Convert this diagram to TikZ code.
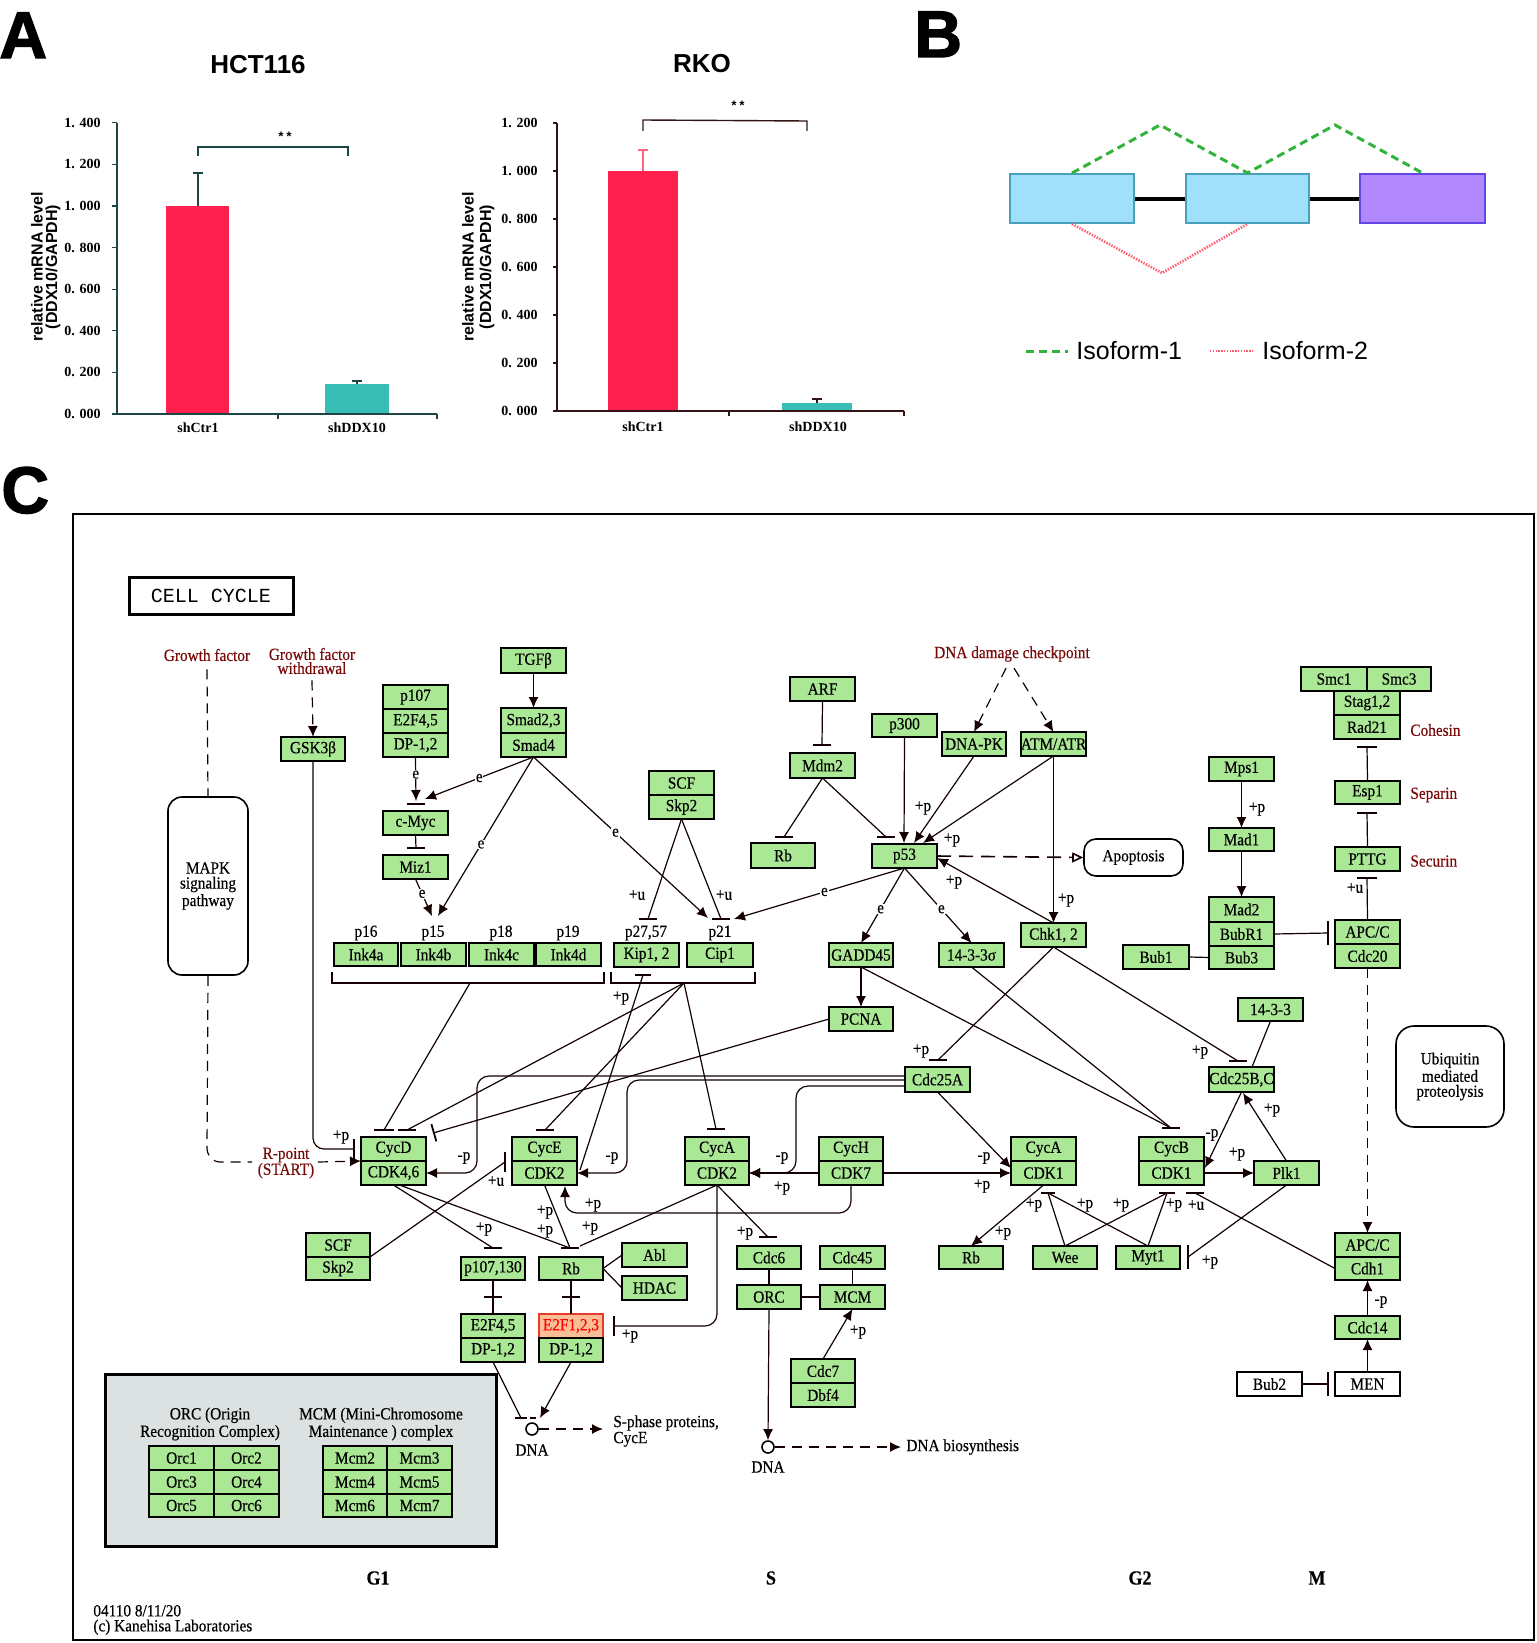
\documentclass[tikz,border=0pt]{standalone}
\usepackage{fontspec}
\setmainfont{Liberation Serif}
\newfontfamily\kgf{Liberation Serif}[FakeStretch=0.9,FakeBold=0.4]
\newfontfamily\arf{Liberation Sans}
\newfontfamily\heavy{Liberation Sans}[FakeBold=2]
\newfontfamily\mof{Liberation Mono}
\usetikzlibrary{arrows.meta}
\definecolor{kgreen}{RGB}{170,232,150}
\definecolor{kline}{RGB}{20,0,0}
\definecolor{ktext}{RGB}{120,10,10}
\definecolor{barred}{RGB}{255,32,80}
\definecolor{barteal}{RGB}{56,190,180}
\definecolor{axL}{RGB}{30,70,70}
\definecolor{axR}{RGB}{50,20,20}
\definecolor{exblue}{RGB}{160,224,250}
\definecolor{exblueD}{RGB}{70,160,190}
\definecolor{expur}{RGB}{178,136,255}
\definecolor{expurD}{RGB}{100,70,230}
\definecolor{isogreen}{RGB}{50,180,60}
\definecolor{isored}{RGB}{255,90,110}
\definecolor{graybox}{RGB}{220,225,225}
\definecolor{hlfill}{RGB}{250,190,150}
\tikzset{
  kb/.style={draw=black, line width=1pt, fill=kgreen, inner sep=0pt, outer sep=0pt, font=\kgf\fontsize{8.5}{9}\selectfont},
  lab/.style={inner sep=0pt, font=\kgf\fontsize{8.5}{9}\selectfont},
  elab/.style={lab, fill=white, inner sep=0.4pt},
  cn/.style={draw=kline, line width=0.6pt},
  ar/.style={cn, -{Latex[length=5.5pt,width=5pt]}},
  dsh/.style={dash pattern=on 5pt off 3.5pt},
  kbar/.style={draw=kline, line width=0.9pt},
  tick/.style={inner sep=0pt, font=\bfseries\fontsize{7}{7}\selectfont},
  ylab/.style={rotate=90, inner sep=0pt, font=\arf\bfseries\fontsize{8}{8}\selectfont},
  plet/.style={anchor=base west, inner sep=0pt, font=\heavy\bfseries\fontsize{33}{33}\selectfont},
  exon/.style={draw=exblueD, fill=exblue, line width=1pt, minimum height=24.5pt, inner sep=0pt},
  rbox/.style={draw=black, line width=0.8pt, inner sep=0pt, align=center, font=\kgf\fontsize{8.5}{7.5}\selectfont},
}
\newcommand\kr[6]{\node[kb, minimum width={(#4-#2)*0.5pt}, minimum height={(#5-#3)*0.5pt}] (#1) at ({(#2+#4)/2},{(#3+#5)/2}) {#6};}
\newcommand\hb[2][9]{\draw[kbar] (#2) +(-#1,0) -- +(#1,0);}
\newcommand\vb[2][10]{\draw[kbar] (#2) +(0,-#1) -- +(0,#1);}
\newcounter{lbc}
\newcommand\lb[3]{\stepcounter{lbc}\node[lab] (lb\arabic{lbc}) at (#1,#2) {#3};}
\begin{document}
\begin{tikzpicture}[x=0.5pt,y=-0.5pt]
\useasboundingbox (0,0) rectangle (1536,1643);
\fill[white] (0,0) rectangle (1536,1643);
% ---------------- panel letters
\node[plet] (lA) at (-1,58) {A};
\node[plet] (lB) at (914,57) {B};
\node[plet] (lC) at (1,513) {C};
% ---------------- panel A left
\node[inner sep=0pt, font=\arf\bfseries\fontsize{13}{13}\selectfont] (t1) at (258,65) {HCT116};
\fill[barred] (166,206) rectangle (229,414);
\fill[barteal] (325,384) rectangle (389,414);
\draw[axL, line width=0.7pt] (117,123) -- (117,414) -- (437,414);
\foreach \i/\t in {0/0. 000,1/0. 200,2/0. 400,3/0. 600,4/0. 800,5/1. 000,6/1. 200,7/1. 400}{
  \draw[axL, line width=0.6pt] (112,{414-\i*41.6}) -- (117,{414-\i*41.6});
  \node[tick, anchor=east] (tl\i) at (101,{414-\i*41.6}) {\t};
}
\draw[axL, line width=0.6pt] (278,414) -- (278,419) (437,414) -- (437,419);
\draw[axL, line width=0.6pt] (198,206) -- (198,173) (193,173) -- (203,173);
\draw[axL, line width=0.6pt] (357,384) -- (357,381) (352,381) -- (362,381);
\draw[axL, line width=0.7pt] (198,156) -- (198,147) -- (348,147) -- (348,156);
\node[inner sep=0pt, font=\mof\bfseries\fontsize{6.5}{6}\selectfont] (st1) at (285,137) {**};
\node[tick] (xl1) at (198,428) {shCtr1};
\node[tick] (xl2) at (357,428) {shDDX10};
\node[ylab] (yl1) at (37,267) {relative mRNA level};
\node[ylab] (yl2) at (53,267) {(DDX10/GAPDH)};
% ---------------- panel A right
\node[inner sep=0pt, font=\arf\bfseries\fontsize{13}{13}\selectfont] (t2) at (702,64) {RKO};
\fill[barred] (608,171) rectangle (678,411);
\fill[barteal] (782,403) rectangle (852,411);
\draw[axR, line width=0.7pt] (557,123) -- (557,411) -- (904,411);
\foreach \i/\t in {0/0. 000,1/0. 200,2/0. 400,3/0. 600,4/0. 800,5/1. 000,6/1. 200}{
  \draw[axR, line width=0.6pt] (553,{411-\i*48}) -- (557,{411-\i*48});
  \node[tick, anchor=east] (tr\i) at (538,{411-\i*48}) {\t};
}
\draw[axR, line width=0.6pt] (729,411) -- (729,416) (904,411) -- (904,416);
\draw[barred!70!white, line width=0.6pt] (643,171) -- (643,150) (638,150) -- (648,150);
\draw[axR, line width=0.6pt] (817,403) -- (817,399) (812,399) -- (822,399);
\draw[axR, line width=0.7pt] (643,131) -- (643,120) -- (807,121) -- (807,131);
\node[inner sep=0pt, font=\mof\bfseries\fontsize{6.5}{6}\selectfont] (st2) at (738,106) {**};
\node[tick] (xr1) at (643,427) {shCtr1};
\node[tick] (xr2) at (818,427) {shDDX10};
\node[ylab] (yr1) at (468,267) {relative mRNA level};
\node[ylab] (yr2) at (487,267) {(DDX10/GAPDH)};
% ---------------- panel B
\draw[black, line width=1.6pt] (1134,199) -- (1186,199) (1309,199) -- (1360,199);
\node[exon, minimum width=62pt] (ex1) at (1072,198.5) {};
\node[exon, minimum width=61.5pt] (ex2) at (1247.5,198.5) {};
\node[exon, draw=expurD, fill=expur, minimum width=62.5pt] (ex3) at (1422.5,198.5) {};
\draw[isogreen, line width=1.5pt, dash pattern=on 4pt off 2.5pt] (ex1.north) -- (1160,125) -- (ex2.north) -- (1335,125) -- (ex3.north);
\draw[isored, line width=1.3pt, dash pattern=on 0.7pt off 0.7pt] (ex1.south) -- (1162,273) -- (ex2.south);
\coordinate (lg1a) at (1026,351); \coordinate (lg1b) at (1068,351);
\coordinate (lg2a) at (1210,351); \coordinate (lg2b) at (1253,351);
\draw[isogreen, line width=1.5pt, dash pattern=on 4pt off 2.5pt] (lg1a) -- (lg1b);
\draw[isored, line width=1.3pt, dash pattern=on 0.7pt off 0.7pt] (lg2a) -- (lg2b);
\node[anchor=west, inner sep=0pt, font=\arf\fontsize{12.5}{12.5}\selectfont] (iso1) at (1076,351) {Isoform-1};
\node[anchor=west, inner sep=0pt, font=\arf\fontsize{12.5}{12.5}\selectfont] (iso2) at (1262,351) {Isoform-2};
% ---------------- panel C frame
\draw[black, line width=1pt] (73,514) rectangle (1534,1640);
\node[draw, line width=1.5pt, minimum width=82pt, minimum height=18.5pt, inner sep=0pt, font=\mof\fontsize{10}{10}\selectfont] (cc) at (211,595.5) {CELL CYCLE};
% gray legend box
\node[draw, line width=1.5pt, fill=graybox, minimum width=195.5pt, minimum height=86pt, inner sep=0pt] (gbox) at (300.5,1460) {};
\node[lab, align=center, font=\kgf\fontsize{8.5}{7.5}\selectfont] (orct) at (210,1424) {ORC (Origin\\Recognition Complex)};
\node[lab, align=center, font=\kgf\fontsize{8.5}{7.5}\selectfont] (mcmt) at (381,1424) {MCM (Mini-Chromosome\\Maintenance ) complex};
\kr{orc1}{149}{1446}{214}{1470}{Orc1}
\kr{orc2}{214}{1446}{279}{1470}{Orc2}
\kr{orc3}{149}{1470}{214}{1494}{Orc3}
\kr{orc4}{214}{1470}{279}{1494}{Orc4}
\kr{orc5}{149}{1494}{214}{1517}{Orc5}
\kr{orc6}{214}{1494}{279}{1517}{Orc6}
\kr{mcm2}{323}{1446}{387}{1470}{Mcm2}
\kr{mcm3}{387}{1446}{452}{1470}{Mcm3}
\kr{mcm4}{323}{1470}{387}{1494}{Mcm4}
\kr{mcm5}{387}{1470}{452}{1494}{Mcm5}
\kr{mcm6}{323}{1494}{387}{1517}{Mcm6}
\kr{mcm7}{387}{1494}{452}{1517}{Mcm7}
% ---------------- nodes
\kr{gsk}{281}{737}{345}{761}{GSK3β}
\kr{p107}{383}{685}{448}{709}{p107}
\kr{efa}{383}{709}{448}{733}{E2F4,5}
\kr{dpa}{383}{733}{448}{757}{DP-1,2}
\kr{tgfb}{501}{648}{566}{673}{TGFβ}
\kr{smad23}{501}{708}{566}{733}{Smad2,3}
\kr{smad4}{501}{733}{566}{757}{Smad4}
\kr{cmyc}{383}{811}{448}{835}{c-Myc}
\kr{miz1}{383}{855}{448}{879}{Miz1}
\kr{ink4a}{334}{943}{398}{966}{Ink4a}
\kr{ink4b}{401}{943}{466}{966}{Ink4b}
\kr{ink4c}{469}{943}{534}{966}{Ink4c}
\kr{ink4d}{536}{943}{601}{966}{Ink4d}
\kr{kip}{614}{943}{679}{967}{Kip1, 2}
\kr{cip}{687}{943}{753}{967}{Cip1}
\kr{scfa}{649}{771}{714}{795}{SCF}
\kr{skpa}{649}{795}{714}{819}{Skp2}
\kr{arf}{790}{677}{855}{701}{ARF}
\kr{mdm2}{790}{753}{855}{778}{Mdm2}
\kr{rbt}{751}{843}{815}{868}{Rb}
\kr{p300}{872}{714}{937}{737}{p300}
\kr{p53}{872}{844}{937}{868}{p53}
\kr{dnapk}{942}{732}{1006}{756}{DNA-PK}
\kr{atm}{1021}{732}{1086}{756}{ATM/ATR}
\kr{gadd}{829}{943}{893}{967}{GADD45}
\kr{sig}{939}{943}{1004}{967}{14-3-3σ}
\kr{chk}{1021}{923}{1086}{947}{Chk1, 2}
\kr{pcna}{829}{1007}{893}{1031}{PCNA}
\kr{cdc25a}{905}{1067}{970}{1092}{Cdc25A}
\kr{cycd}{361}{1137}{426}{1161}{CycD}
\kr{cdk46}{361}{1161}{426}{1185}{CDK4,6}
\kr{cyce}{512}{1137}{577}{1161}{CycE}
\kr{cdk2e}{512}{1161}{577}{1185}{CDK2}
\kr{cycaa}{685}{1137}{749}{1161}{CycA}
\kr{cdk2a}{685}{1161}{749}{1185}{CDK2}
\kr{cych}{819}{1137}{883}{1161}{CycH}
\kr{cdk7}{819}{1161}{883}{1185}{CDK7}
\kr{cycab}{1011}{1137}{1076}{1161}{CycA}
\kr{cdk1a}{1011}{1161}{1076}{1185}{CDK1}
\kr{cycb}{1139}{1137}{1204}{1161}{CycB}
\kr{cdk1b}{1139}{1161}{1204}{1185}{CDK1}
\kr{plk1}{1254}{1161}{1319}{1185}{Plk1}
\kr{cdc25bc}{1209}{1067}{1274}{1092}{Cdc25B,C}
\kr{f1433}{1238}{998}{1303}{1021}{14-3-3}
\kr{scfb}{306}{1233}{370}{1257}{SCF}
\kr{skpb}{306}{1257}{370}{1280}{Skp2}
\kr{p107b}{461}{1257}{525}{1280}{p107,130}
\kr{rbm}{539}{1257}{603}{1280}{Rb}
\kr{efb}{461}{1314}{525}{1338}{E2F4,5}
\kr{dpb}{461}{1338}{525}{1362}{DP-1,2}
\node[kb, fill=hlfill, draw={rgb,255:red,230;green,60;blue,40}, text=red, minimum width=32pt, minimum height=12pt] (ef123) at (571,1326) {E2F1,2,3};
\kr{dpc}{539}{1338}{603}{1362}{DP-1,2}
\kr{abl}{622}{1243}{687}{1267}{Abl}
\kr{hdac}{622}{1276}{687}{1300}{HDAC}
\kr{cdc6}{737}{1246}{801}{1269}{Cdc6}
\kr{cdc45}{820}{1246}{885}{1269}{Cdc45}
\kr{orc}{737}{1285}{801}{1309}{ORC}
\kr{mcm}{820}{1285}{885}{1309}{MCM}
\kr{cdc7}{791}{1359}{855}{1383}{Cdc7}
\kr{dbf4}{791}{1383}{855}{1407}{Dbf4}
\kr{rbr}{939}{1246}{1003}{1269}{Rb}
\kr{wee}{1033}{1246}{1097}{1269}{Wee}
\kr{myt1}{1116}{1246}{1180}{1269}{Myt1}
\kr{apcb}{1335}{1233}{1400}{1257}{APC/C}
\kr{cdh1}{1335}{1257}{1400}{1280}{Cdh1}
\kr{cdc14}{1335}{1316}{1400}{1339}{Cdc14}
\node[kb, fill=white, minimum width=32.5pt, minimum height=12pt] (bub2) at (1269.5,1384) {Bub2};
\node[kb, fill=white, minimum width=32.5pt, minimum height=12pt] (men) at (1367.5,1384) {MEN};
\kr{smc1}{1301}{667}{1367}{691}{Smc1}
\kr{smc3}{1367}{667}{1431}{691}{Smc3}
\kr{stag}{1334}{691}{1400}{715}{Stag1,2}
\kr{rad21}{1334}{715}{1400}{739}{Rad21}
\kr{esp1}{1335}{781}{1400}{804}{Esp1}
\kr{pttg}{1335}{847}{1400}{871}{PTTG}
\kr{apca}{1335}{920}{1400}{944}{APC/C}
\kr{cdc20}{1335}{944}{1400}{968}{Cdc20}
\kr{mps1}{1209}{757}{1274}{781}{Mps1}
\kr{mad1}{1209}{828}{1274}{851}{Mad1}
\kr{mad2}{1209}{897}{1274}{922}{Mad2}
\kr{bubr1}{1209}{922}{1274}{946}{BubR1}
\kr{bub3}{1209}{946}{1274}{969}{Bub3}
\kr{bub1}{1123}{945}{1189}{969}{Bub1}
% rounded boxes
\node[rbox, rounded corners=7pt, minimum width=40pt, minimum height=89pt] (mapk) at (208,886) {MAPK\\signaling\\pathway};
\node[rbox, rounded corners=6pt, minimum width=49.5pt, minimum height=18.5pt] (apop) at (1133.5,857.5) {Apoptosis};
\node[rbox, rounded corners=9pt, minimum width=54pt, minimum height=50.5pt] (ubq) at (1450,1076.5) {Ubiquitin\\mediated\\proteolysis};
% ---------------- texts
\node[lab, text=ktext] (gf) at (207,655) {Growth factor};
\node[lab, text=ktext, align=center, font=\kgf\fontsize{8.5}{7}\selectfont] (gfw) at (312,661) {Growth factor\\withdrawal};
\node[lab, text=ktext] (ddc) at (1012,654) {DNA damage checkpoint};
\node[lab, text=ktext, align=center, font=\kgf\fontsize{8.5}{8}\selectfont] (rp) at (286,1163) {R-point\\(START)};
\node[lab, anchor=west, text=ktext] (coh) at (1410,730) {Cohesin};
\node[lab, anchor=west, text=ktext] (sep) at (1410,795) {Separin};
\node[lab, anchor=west, text=ktext] (sec) at (1410,861) {Securin};
\lb{366}{933}{p16} \lb{433}{933}{p15} \lb{501}{933}{p18} \lb{568}{933}{p19}
\lb{646}{933}{p27,57} \lb{720}{933}{p21}
\node[lab, font=\kgf\bfseries\fontsize{10}{10}\selectfont] (g1) at (378,1578) {G1};
\node[lab, font=\kgf\bfseries\fontsize{10}{10}\selectfont] (phs) at (771,1578) {S};
\node[lab, font=\kgf\bfseries\fontsize{10}{10}\selectfont] (g2) at (1140,1578) {G2};
\node[lab, font=\kgf\bfseries\fontsize{10}{10}\selectfont] (phm) at (1317,1578) {M};
\node[lab, anchor=west, align=left, font=\kgf\fontsize{8.5}{7.5}\selectfont] (ft) at (93,1620) {04110 8/11/20\\(c) Kanehisa Laboratories};
% ---------------- connectors, left part
\draw[cn, dsh] ([yshift=-4pt]gf.south) -- (mapk.north);
\draw[cn, dsh] (mapk.south) -- (207,1148) to[out=-90,in=180] (220,1162) -- (252,1162);
\draw[cn, dsh, -{Latex[length=5.5pt,width=5pt]}] (318,1162) -- (cycd.south west);
\draw[cn, dsh, -{Latex[length=5.5pt,width=5pt]}] ([yshift=-3pt]gfw.south) -- (gsk.north);
\coordinate (bgsk) at (354,1149);
\draw[cn] (gsk.south) -- (313,1138) to[out=-90,in=180] (324,1149) -- (bgsk);
\vb{bgsk}
\lb{341}{1137}{+p}
\draw[ar] (tgfb.south) -- (smad23.north);
\coordinate (cmt) at (416,804);
\draw[ar] (dpa.south) -- (416,801) node[elab, pos=0.4] (e1) {e};
\hb{cmt}
\draw[ar] (smad4.south) -- (425,799) node[elab, pos=0.5] (e2) {e};
\draw[ar] (smad4.south) -- (438,916) node[elab, pos=0.55] (e3) {e};
\draw[ar] (miz1.south) -- (432,916) node[elab, pos=0.4] (e4) {e};
\draw[ar] (smad4.south) -- (708,918) node[elab, pos=0.47] (e5) {e};
\coordinate (bmiz) at (416,848);
\draw[cn] (cmyc.south) -- (bmiz); \hb{bmiz}
\draw[cn] (332,972) -- (332,983) -- (604,983) -- (604,972);
\draw[cn] (611,972) -- (611,983) -- (755,983) -- (755,972);
\coordinate (ikb) at (470,983);
\coordinate (kcb) at (684,983);
\coordinate (bkip) at (648,919);
\coordinate (bp21) at (721,919);
\draw[cn] (skpa.south) -- (bkip); \hb{bkip}
\draw[cn] (skpa.south) -- (bp21); \hb{bp21}
\lb{637}{895}{+u} \lb{724}{895}{+u}
% ---------------- p53 region
\coordinate (bmdm) at (822,745);
\draw[cn] (arf.south) -- (bmdm); \hb{bmdm}
\coordinate (brbt) at (784,837);
\draw[cn] (mdm2.south) -- (brbt); \hb{brbt}
\coordinate (bp53) at (886,837);
\draw[cn] (mdm2.south) -- (bp53); \hb{bp53}
\draw[ar] (p300.south) -- (904,843);
\draw[ar] (dnapk.south) -- (914,843);
\draw[ar] (atm.south) -- (923,843);
\draw[ar] (atm.south) -- (chk.north);
\draw[ar] (chk.north) -- (937,858);
\lb{923}{808}{+p} \lb{952}{840}{+p} \lb{954}{882}{+p} \lb{1066}{900}{+p}
\draw[cn, dsh, -{Latex[length=5.5pt,width=5pt]}] ([xshift=-3pt,yshift=-3pt]ddc.south) -- (dnapk.north);
\draw[cn, dsh, -{Latex[length=5.5pt,width=5pt]}] ([xshift=1pt,yshift=-3pt]ddc.south) -- (atm.north);
\draw[cn, line width=0.8pt, dash pattern=on 7pt off 4pt, -{Triangle[open,length=5.5pt,width=5pt]}] (p53.east) -- (apop.west);
\draw[ar] (p53.south) -- (734,919) node[elab, pos=0.47] (e6) {e};
\draw[ar] (p53.south) -- (gadd.north) node[elab, pos=0.55] (e7) {e};
\draw[ar] (p53.south) -- (sig.north) node[elab, pos=0.55] (e8) {e};
\draw[ar] (gadd.south) -- (pcna.north);
\coordinate (bcycb) at (1171,1128);
\draw[cn] (gadd.south) -- (bcycb);
\draw[cn] (sig.south) -- (bcycb);
\hb{bcycb}
\coordinate (bc25a) at (938,1060);
\draw[cn] (chk.south) -- (bc25a); \hb{bc25a}
\coordinate (bc25bc) at (1238,1061);
\draw[cn] (chk.south) -- (bc25bc); \hb{bc25bc}
\draw[cn] (f1433.south) -- (1252,1067);
\lb{921}{1051}{+p} \lb{1200}{1052}{+p}
% ---------------- CDK inhibitors
\coordinate (bd1) at (384,1130);
\coordinate (bd2) at (407,1130);
\coordinate (bd3) at (433,1133);
\coordinate (be) at (545,1130);
\coordinate (ba2) at (716,1129);
\draw[cn] (ikb) -- (bd1); \hb[10]{bd1}
\draw[cn] (kcb) -- (bd2); \hb{bd2}
\draw[cn] (kcb) -- (be); \hb{be}
\draw[cn] (kcb) -- (ba2); \hb{ba2}
\draw[cn, -{Bar[width=9pt,line width=0.9pt]}] (pcna.west) -- (bd3);
\coordinate (bkipd) at (643,975);
\draw[cn] (580,1170) -- (bkipd); \hb[8]{bkipd}
\lb{621}{998}{+p}
% ---------------- Cdc25A
\draw[ar, rounded corners=6pt] (905,1076) -- (477,1076) -- (477,1173) -- (cdk46.east);
\draw[ar, rounded corners=6pt] (905,1080) -- (627,1080) -- (627,1173) -- (cdk2e.east);
\draw[ar, rounded corners=6pt] (905,1086) -- (796,1086) -- (796,1173) -- (cdk2a.east);
\draw[ar] (cdc25a.south) -- (1011,1168);
\lb{464}{1158}{-p} \lb{612}{1158}{-p} \lb{782}{1158}{-p} \lb{984}{1158}{-p}
% ---------------- CDK7
\draw[ar] (cdk7.west) -- (cdk2a.east);
\draw[ar] (cdk7.east) -- (cdk1a.west);
\draw[ar, rounded corners=6pt] (cdk7.south) -- (851,1213) -- (565,1213) -- (565,1186);
\lb{782}{1188}{+p} \lb{982}{1186}{+p} \lb{593}{1205}{+p}
% ---------------- G1/S
\coordinate (bscf) at (505,1162);
\draw[cn] (scfb.south east) -- (bscf); \vb{bscf}
\lb{496}{1181}{+u}
\coordinate (bp107) at (493,1248);
\coordinate (brbm) at (570,1248);
\draw[cn] (cdk46.south) -- (bp107); \hb{bp107}
\draw[cn] ([xshift=3pt]cdk46.south) -- (brbm); \hb{brbm}
\draw[cn] (cdk2e.south) -- (brbm);
\draw[cn] (cdk2a.south) -- (580,1246);
\lb{484}{1229}{+p} \lb{545}{1231}{+p} \lb{545}{1212}{+p} \lb{590}{1228}{+p}
\draw[cn] (p107b.south) -- (efb.north);
\coordinate (xa) at (493,1297); \hb{xa}
\draw[cn] (rbm.south) -- (ef123.north);
\coordinate (xb) at (571,1297); \hb{xb}
\draw[cn] (rbm.east) -- (abl.west);
\draw[cn] (rbm.east) -- (hdac.west);
\coordinate (be2f) at (614,1326);
\draw[cn, rounded corners=6pt] (cdk2a.south) -- (717,1326) -- (be2f); \vb{be2f}
\lb{630}{1336}{+p}
\coordinate (bcdc6) at (768,1237);
\draw[cn] (cdk2a.south) -- (bcdc6); \hb{bcdc6}
\lb{745}{1233}{+p}
\draw[cn] (cdc6.south) -- (orc.north);
\draw[cn] (cdc45.south) -- (mcm.north);
\draw[cn] (orc.east) -- (mcm.west);
\draw[ar] (cdc7.north) -- (mcm.south);
\lb{858}{1332}{+p}
\node[circle, draw, line width=0.8pt, minimum size=6pt, inner sep=0pt] (dna2) at (768,1447) {};
\draw[ar] (orc.south) -- (dna2.north);
\draw[cn, dsh, -{Latex[length=5.5pt,width=5pt]}] (dna2.east) -- (901,1447);
\node[lab] (dna2l) at (768,1467) {DNA};
\node[lab, anchor=west] (dbs) at (906,1447) {DNA biosynthesis};
\node[circle, draw, line width=0.8pt, minimum size=6pt, inner sep=0pt] (dna1) at (532,1429) {};
\coordinate (bdna) at (521,1418);
\draw[cn] (dpb.south) -- (bdna); \hb[6]{bdna}
\draw[cn] (530,1418) -- (536,1418);
\draw[ar] (dpc.south) -- (540,1418);
\draw[cn, dsh, -{Latex[length=5.5pt,width=5pt]}] (dna1.east) -- (603,1429);
\node[lab] (dna1l) at (532,1450) {DNA};
\node[lab, anchor=west, align=left, font=\kgf\fontsize{8.5}{8}\selectfont] (sph) at (613,1431) {S-phase proteins,\\ CycE};
% ---------------- G2/M
\draw[ar] (cdk1a.south) -- (rbr.north);
\lb{1003}{1233}{+p}
\coordinate (bk1a) at (1048,1193); \hb[7]{bk1a}
\coordinate (bk1b) at (1167,1193); \hb[8]{bk1b}
\coordinate (bk1c) at (1195,1193); \hb[9]{bk1c}
\draw[cn] (wee.north) -- (bk1a);
\draw[cn] (myt1.north) -- (bk1a);
\draw[cn] (wee.north) -- (bk1b);
\draw[cn] (myt1.north) -- (bk1b);
\draw[cn] (cdh1.west) -- (bk1c);
\lb{1034}{1205}{+p} \lb{1085}{1205}{+p} \lb{1121}{1205}{+p} \lb{1174}{1205}{+p} \lb{1196}{1205}{+u}
\coordinate (bmyt) at (1188,1257);
\draw[cn] (plk1.south) -- (bmyt); \vb[12]{bmyt}
\lb{1210}{1262}{+p}
\draw[ar] (cdk1b.east) -- (plk1.west);
\lb{1237}{1154}{+p}
\draw[ar] (plk1.north) -- (1243,1093);
\lb{1272}{1110}{+p}
\draw[ar] (cdc25bc.south) -- (1205,1168);
\lb{1212}{1135}{-p}
% ---------------- right column
\draw[ar] (mps1.south) -- (mad1.north);
\lb{1257}{809}{+p}
\draw[ar] (mad1.south) -- (mad2.north);
\coordinate (bapc) at (1328,933);
\draw[cn] (bubr1.east) -- (bapc); \vb[12]{bapc}
\draw[cn] (bub1.east) -- (bub3.west);
\coordinate (bpttg) at (1367,878);
\draw[cn] (apca.north) -- (bpttg); \hb[10]{bpttg}
\lb{1355}{888}{+u}
\coordinate (besp) at (1367,813);
\draw[cn] (pttg.north) -- (besp); \hb[10]{besp}
\coordinate (brad) at (1367,747);
\draw[cn] (esp1.north) -- (brad); \hb[10]{brad}
\draw[cn, dsh, -{Latex[length=5.5pt,width=5pt]}] (cdc20.south) -- (apcb.north);
\draw[ar] (cdc14.north) -- (cdh1.south);
\lb{1381}{1302}{-p}
\draw[ar] (men.north) -- (cdc14.south);
\coordinate (bmen) at (1328,1384);
\draw[cn] (bub2.east) -- (bmen); \vb[12]{bmen}
\end{tikzpicture}
\end{document}
